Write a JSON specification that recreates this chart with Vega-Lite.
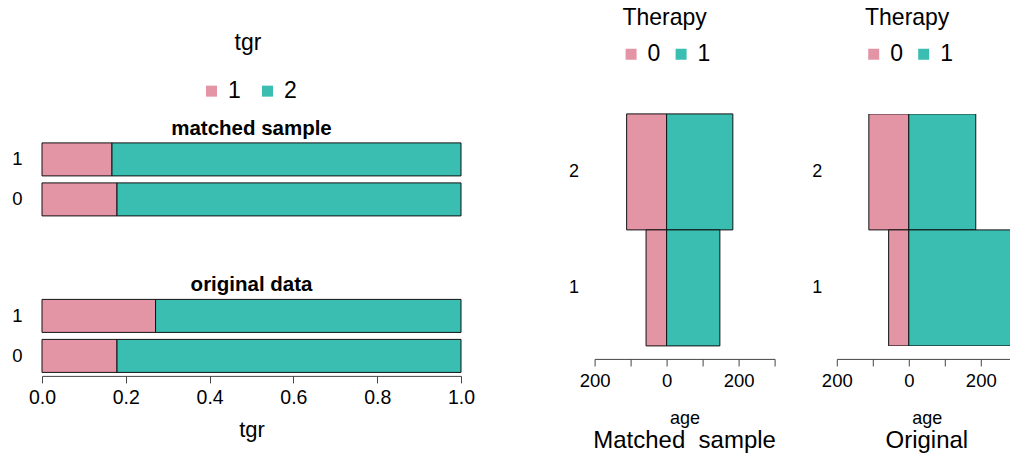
{
  "$schema": "https://vega.github.io/schema/vega-lite/v6.json",
  "padding": {"left": 11, "top": 5.9, "right": 0, "bottom": 0},
  "config": {
    "font": "Liberation Sans",
    "view": {"stroke": null},
    "axis": {"labelColor": "#000", "titleColor": "#000", "grid": false, "titleFontWeight": "normal", "domainColor": "#444", "tickColor": "#444", "labelFlush": false, "labelOverlap": false},
    "title": {"color": "#000", "frame": "group", "anchor": "middle"},
    "legend": {"labelColor": "#000", "titleColor": "#000", "titleFontWeight": "normal", "symbolType": "square", "symbolSize": 121, "symbolStrokeWidth": 0, "direction": "horizontal", "orient": "none", "titleAnchor": "middle", "titleFontSize": 23, "labelFontSize": 23, "labelOffset": 5}
  },
  "datasets": {
    "prop": [
      {"sample": "matched sample", "group": "1", "tgr": "1", "prop": 0.167},
      {"sample": "matched sample", "group": "1", "tgr": "2", "prop": 0.833},
      {"sample": "matched sample", "group": "0", "tgr": "1", "prop": 0.179},
      {"sample": "matched sample", "group": "0", "tgr": "2", "prop": 0.821},
      {"sample": "original data", "group": "1", "tgr": "1", "prop": 0.271},
      {"sample": "original data", "group": "1", "tgr": "2", "prop": 0.729},
      {"sample": "original data", "group": "0", "tgr": "1", "prop": 0.179},
      {"sample": "original data", "group": "0", "tgr": "2", "prop": 0.821}
    ],
    "pyr": [
      {"panel": "Matched", "tgr": "2", "therapy": "0", "value": -111},
      {"panel": "Matched", "tgr": "2", "therapy": "1", "value": 184},
      {"panel": "Matched", "tgr": "1", "therapy": "0", "value": -57},
      {"panel": "Matched", "tgr": "1", "therapy": "1", "value": 148},
      {"panel": "Original", "tgr": "2", "therapy": "0", "value": -111},
      {"panel": "Original", "tgr": "2", "therapy": "1", "value": 186},
      {"panel": "Original", "tgr": "1", "therapy": "0", "value": -56},
      {"panel": "Original", "tgr": "1", "therapy": "1", "value": 420}
    ]
  },
  "resolve": {"scale": {"color": "independent", "x": "independent", "y": "independent"}, "legend": {"color": "independent"}},
  "spacing": 92.6,
  "hconcat": [
    {
      "spacing": 58,
      "resolve": {"scale": {"y": "independent"}},
      "vconcat": [
        {
          "data": {"name": "prop"},
          "transform": [{"filter": "datum.sample == 'matched sample'"}],
          "width": 419,
          "height": 102,
          "title": {"text": "matched sample", "fontSize": 20.5, "fontWeight": "bold", "offset": -25.5},
          "mark": {"type": "bar", "stroke": "#111", "strokeWidth": 1},
          "encoding": {
            "y": {"field": "group", "type": "nominal", "sort": ["1", "0"], "scale": {"paddingInner": 0.175, "paddingOuter": 0.3625, "align": 1}, "axis": {"title": null, "ticks": false, "tickSize": 0, "domain": false, "labelPadding": 20, "labelFontSize": 18.5}},
            "x": {"field": "prop", "type": "quantitative", "stack": "zero", "scale": {"domain": [0, 1], "nice": false}, "axis": null},
            "color": {"field": "tgr", "type": "nominal", "scale": {"domain": ["1", "2"], "range": ["#E495A5", "#39BEB1"]}, "legend": {"title": "tgr", "legendX": 133, "legendY": -106.5, "padding": 25, "titlePadding": 24, "columnPadding": 15}},
            "order": {"field": "tgr"}
          }
        },
        {
          "data": {"name": "prop"},
          "transform": [{"filter": "datum.sample == 'original data'"}],
          "width": 419,
          "height": 80,
          "title": {"text": "original data", "fontSize": 20.5, "fontWeight": "bold", "offset": 0.3},
          "mark": {"type": "bar", "stroke": "#111", "strokeWidth": 1},
          "encoding": {
            "y": {"field": "group", "type": "nominal", "sort": ["1", "0"], "scale": {"paddingInner": 0.175, "paddingOuter": 0.0875}, "axis": {"title": null, "ticks": false, "tickSize": 0, "domain": false, "labelPadding": 20, "labelFontSize": 18.5}},
            "x": {"field": "prop", "type": "quantitative", "stack": "zero", "scale": {"domain": [0, 1], "nice": false}, "axis": {"title": "tgr", "titleFontSize": 22, "titlePadding": 12, "values": [0, 0.2, 0.4, 0.6, 0.8, 1], "format": ".1f", "tickSize": 7, "labelPadding": 6, "labelFontSize": 19.5}},
            "color": {"field": "tgr", "type": "nominal", "scale": {"domain": ["1", "2"], "range": ["#E495A5", "#39BEB1"]}},
            "order": {"field": "tgr"}
          }
        }
      ]
    },
    {
      "spacing": 34.2,
      "resolve": {"scale": {"color": "independent", "x": "independent", "y": "independent"}, "legend": {"color": "independent"}},
      "hconcat": [
        {
          "data": {"name": "pyr"},
          "transform": [{"filter": "datum.panel == 'Matched'"}],
          "width": 180,
          "height": 232,
          "title": {"text": "Matched\u00a0 sample", "orient": "bottom", "fontSize": 24, "fontWeight": "normal", "offset": 1.5},
          "mark": {"type": "bar", "stroke": "#111", "strokeWidth": 1},
          "encoding": {
            "y": {"field": "tgr", "type": "nominal", "sort": ["2", "1"], "scale": {"paddingInner": 0, "paddingOuter": 0}, "axis": {"title": null, "ticks": false, "tickSize": 0, "domain": false, "labelPadding": 16, "labelFontSize": 18}},
            "x": {"field": "value", "type": "quantitative", "scale": {"domain": [-200, 300], "nice": false}, "axis": {"title": "age", "titleFontSize": 18, "titlePadding": 19.5, "values": [-200, -100, 0, 100, 200, 300], "labelExpr": "datum.value == 0 ? '0' : (abs(datum.value) == 200 ? '200' : '')", "offset": 13, "tickSize": 7, "labelPadding": 5.6, "labelFontSize": 18.5}},
            "x2": {"datum": 0},
            "color": {"field": "therapy", "type": "nominal", "scale": {"domain": ["0", "1"], "range": ["#E495A5", "#39BEB1"]}, "legend": {"title": "Therapy", "legendX": 25, "legendY": -107.1, "padding": 0, "titlePadding": 12.7, "columnPadding": 9}}
          }
        },
        {
          "data": {"name": "pyr"},
          "transform": [{"filter": "datum.panel == 'Original'"}],
          "width": 173.7,
          "height": 232,
          "title": {"text": "Original", "orient": "bottom", "fontSize": 24, "fontWeight": "normal", "offset": 1.5, "dx": 3.2},
          "mark": {"type": "bar", "stroke": "#111", "strokeWidth": 1, "clip": true},
          "encoding": {
            "y": {"field": "tgr", "type": "nominal", "sort": ["2", "1"], "scale": {"paddingInner": 0, "paddingOuter": 0}, "axis": {"title": null, "ticks": false, "tickSize": 0, "domain": false, "labelPadding": 15, "labelFontSize": 18}},
            "x": {"field": "value", "type": "quantitative", "scale": {"domain": [-200, 282.5], "nice": false}, "axis": {"title": "age", "titleX": 90, "titleFontSize": 18, "titlePadding": 19.5, "values": [-200, -100, 0, 100, 200], "labelExpr": "datum.value == 0 ? '0' : (abs(datum.value) == 200 ? '200' : '')", "offset": 13, "tickSize": 7, "labelPadding": 5.6, "labelFontSize": 18.5}},
            "x2": {"datum": 0},
            "color": {"field": "therapy", "type": "nominal", "scale": {"domain": ["0", "1"], "range": ["#E495A5", "#39BEB1"]}, "legend": {"title": "Therapy", "legendX": 25.4, "legendY": -107.1, "padding": 0, "titlePadding": 12.7, "columnPadding": 9}}
          }
        }
      ]
    }
  ]
}
